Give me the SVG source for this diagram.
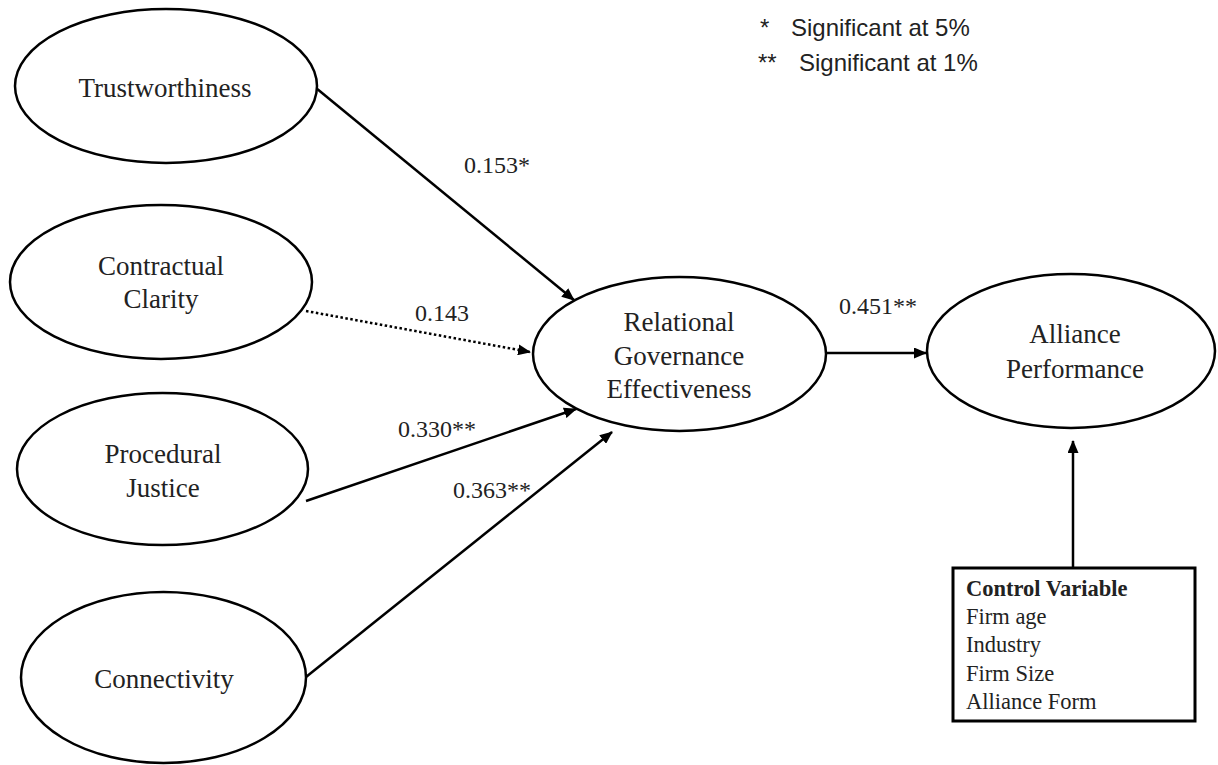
<svg xmlns="http://www.w3.org/2000/svg" width="1218" height="765" viewBox="0 0 1218 765">
<style>
.node ellipse{fill:#fff;stroke:#000;stroke-width:2.5}
.lbl{font-family:"Liberation Serif","Times New Roman",serif;font-size:27px;fill:#222;text-anchor:middle}
.coef{font-family:"Liberation Serif","Times New Roman",serif;font-size:24px;fill:#222}
.legend{font-family:"Liberation Sans",Arial,sans-serif;font-size:24px;fill:#222}
.ctl{font-family:"Liberation Serif","Times New Roman",serif;font-size:22.5px;fill:#222}
.edge{stroke:#000;stroke-width:2.5;fill:none;marker-end:url(#arr)}
.dotted{stroke-dasharray:2.5 2.5}
</style>
<defs>
<marker id="arr" markerUnits="userSpaceOnUse" markerWidth="13" markerHeight="11" refX="12" refY="5.5" orient="auto">
<path d="M0,0 L13,5.5 L0,11 z" fill="#000"/>
</marker>
</defs>
<rect width="1218" height="765" fill="#fff"/>

<g id="legend">
<text class="legend" x="760" y="36">*</text>
<text class="legend" x="791" y="36">Significant at 5%</text>
<text class="legend" x="758" y="71">**</text>
<text class="legend" x="799" y="71">Significant at 1%</text>
</g>

<g id="connectors">
<line class="edge" x1="316" y1="88" x2="574" y2="300"/>
<line class="edge dotted" x1="306" y1="311" x2="530" y2="352"/>
<line class="edge" x1="306" y1="501" x2="576" y2="409"/>
<line class="edge" x1="306" y1="677" x2="612" y2="432"/>
<line class="edge" x1="826" y1="353" x2="926" y2="353"/>
<line class="edge" x1="1073" y1="567" x2="1073" y2="441"/>
<text class="coef" x="464" y="173">0.153*</text>
<text class="coef" x="415" y="321">0.143</text>
<text class="coef" x="398" y="437">0.330**</text>
<text class="coef" x="453" y="498">0.363**</text>
<text class="coef" x="839" y="314">0.451**</text>
</g>

<g id="trustworthiness" class="node">
<ellipse cx="166" cy="86" rx="151" ry="77"/>
<text class="lbl" x="165" y="97">Trustworthiness</text>
</g>
<g id="contractual-clarity" class="node">
<ellipse cx="161" cy="282" rx="151" ry="77"/>
<text class="lbl" x="161" y="275">Contractual</text>
<text class="lbl" x="161" y="308">Clarity</text>
</g>
<g id="procedural-justice" class="node">
<ellipse cx="162.5" cy="469" rx="145.5" ry="76"/>
<text class="lbl" x="163" y="463">Procedural</text>
<text class="lbl" x="163" y="497">Justice</text>
</g>
<g id="connectivity" class="node">
<ellipse cx="163.5" cy="677.5" rx="142.5" ry="85.5"/>
<text class="lbl" x="164" y="688">Connectivity</text>
</g>
<g id="relational-governance" class="node">
<ellipse cx="679.5" cy="354" rx="146.5" ry="77"/>
<text class="lbl" x="679" y="331">Relational</text>
<text class="lbl" x="679" y="365">Governance</text>
<text class="lbl" x="679" y="398">Effectiveness</text>
</g>
<g id="alliance-performance" class="node">
<ellipse cx="1071" cy="351" rx="144" ry="77"/>
<text class="lbl" x="1075" y="343">Alliance</text>
<text class="lbl" x="1075" y="378">Performance</text>
</g>
<g id="control-variable">
<rect x="953" y="568" width="242" height="153" fill="#fff" stroke="#000" stroke-width="3"/>
<text class="ctl" x="966" y="596" font-weight="bold" font-size="23px">Control Variable</text>
<text class="ctl" x="966" y="624">Firm age</text>
<text class="ctl" x="966" y="652">Industry</text>
<text class="ctl" x="966" y="681">Firm Size</text>
<text class="ctl" x="966" y="709">Alliance Form</text>
</g>
</svg>
